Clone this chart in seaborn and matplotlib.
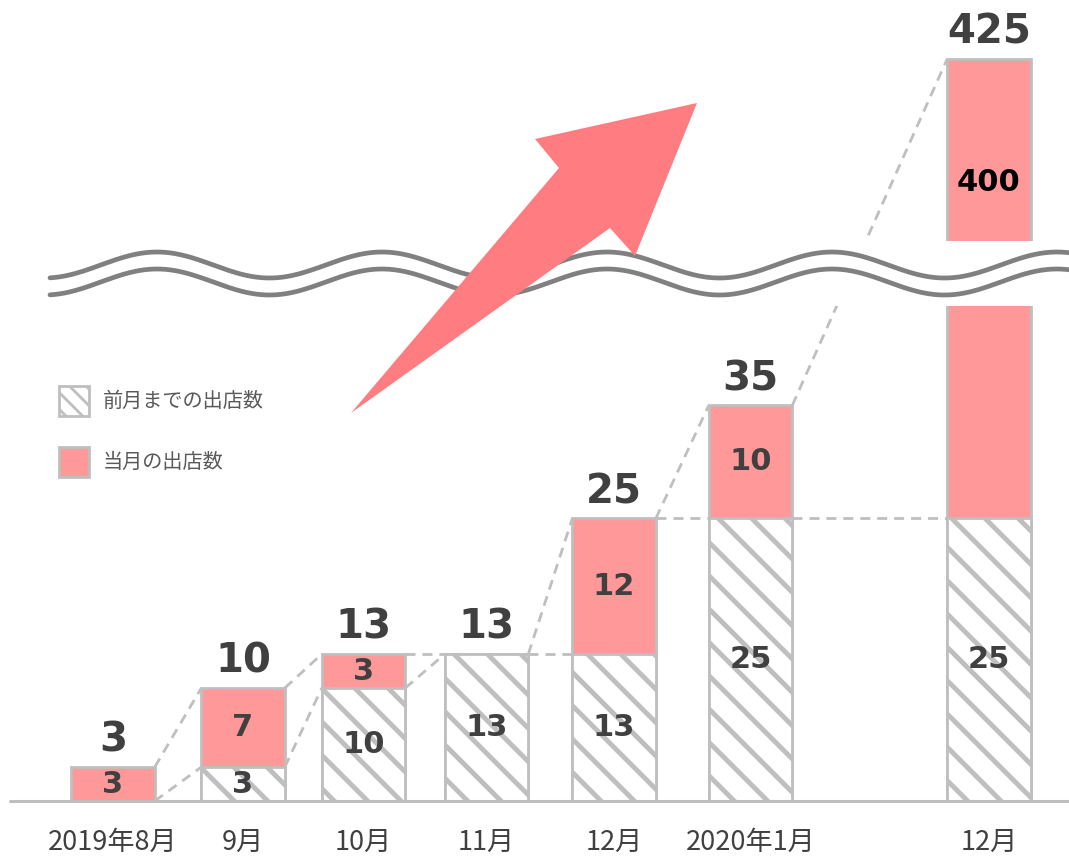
import numpy as np
import pandas as pd
import seaborn as sns
import matplotlib.pyplot as plt
from matplotlib.patches import Patch, Polygon
from matplotlib.lines import Line2D

# data
months = ['2019年8月', '9月', '10月', '11月', '12月', '2020年1月', '12月']
prev_stores = [0, 3, 10, 13, 13, 25, 25]     # 前月までの出店数
new_stores = [3, 7, 3, 0, 12, 10, 400]       # 当月の出店数
link_from = [0, 3, 10, 13, 25, 25]           # level where the lower dashed link leaves each bar
legend_labels = ['前月までの出店数', '当月の出店数']

# layout (bar centres in slot units, the last one further right)
x_pos = [0, 1.02, 1.965, 2.93, 3.93, 5.0, 6.87]
BAR_W = 0.693

PINK = '#FF9999'
GRAY = '#BFBFBF'
DARK = '#404040'
ARROW = '#FF7C80'

sns.set_style('white')
plt.rcParams['font.family'] = ['Noto Sans CJK JP', 'DejaVu Sans']
plt.rcParams['hatch.linewidth'] = 3.5

df = pd.DataFrame({'x': x_pos, 'month': months, 'prev': prev_stores, 'new': new_stores})
df['total'] = df['prev'] + df['new']

W, H = 1069, 861
fig = plt.figure(figsize=(W / 100, H / 100), dpi=100)
ax_lo = fig.add_axes([0, 60 / H, 1, 495 / H])
ax_hi = fig.add_axes([0, 620 / H, 1, 221 / H])

lo_lim = (0, 43.8)
hi_lim = (408.9, 428.45)
xlim = (-0.8863, 7.498)

for ax in (ax_lo, ax_hi):
    # total first in pink, then the previous-month part on top with hatching
    sns.barplot(data=df, x='x', y='total', native_scale=True, color=PINK, saturation=1,
                edgecolor=GRAY, linewidth=2, width=BAR_W, errorbar=None, ax=ax, zorder=2)
    sns.barplot(data=df, x='x', y='prev', native_scale=True, color='white', saturation=1,
                edgecolor=GRAY, linewidth=2, hatch='\\', width=BAR_W, errorbar=None, ax=ax, zorder=3)
    ax.set_xlim(*xlim)
    ax.set_xlabel('')
    ax.set_ylabel('')
    sns.despine(ax=ax, left=True, bottom=True)
    ax.set_yticks([])

ax_lo.set_ylim(*lo_lim)
ax_hi.set_ylim(*hi_lim)
ax_hi.set_xticks([])
ax_lo.set_xticks(x_pos)
ax_lo.set_xticklabels(months, fontsize=19.5, color=DARK)
ax_lo.tick_params(axis='x', length=0, pad=20)
ax_lo.axhline(0, xmin=10 / W, xmax=1, color=GRAY, lw=2.2, zorder=6, clip_on=False)

bw = BAR_W * np.min(np.diff(sorted(x_pos)))
totals = df['total'].tolist()


def axis_for(v):
    return ax_hi if v > lo_lim[1] else ax_lo


# value labels
for x, p, n, t in zip(x_pos, prev_stores, new_stores, totals):
    num_kw = dict(ha='center', va='center', fontweight='bold', family='DejaVu Sans')
    if p > 0:
        ax_lo.text(x, p / 2, str(p), fontsize=22, color=DARK, zorder=7, **num_kw)
    if n > 0:
        if t <= lo_lim[1]:
            ax_lo.text(x, p + n / 2, str(n), fontsize=22, color=DARK, zorder=7, **num_kw)
        else:
            ax_hi.text(x, hi_lim[0] + 0.32 * (t - hi_lim[0]), str(n), fontsize=22,
                       color='black', zorder=7, **num_kw)
    axis_for(t).annotate(str(t), (x, t), xytext=(0, 19), textcoords='offset points',
                         fontsize=29, color=DARK, annotation_clip=False, **num_kw)


# dashed links between neighbouring bars
def link(x0, v0, x1, v1):
    pts = np.array([axis_for(v0).transData.transform((x0, v0)),
                    axis_for(v1).transData.transform((x1, v1))])
    for ax in (ax_lo, ax_hi):
        d = ax.transData.inverted().transform(pts)
        ax.plot(d[:, 0], d[:, 1], ls=(0, (3.6, 2.5)), color=GRAY, lw=2, zorder=1)


for i in range(len(x_pos) - 1):
    xr = x_pos[i] + bw / 2
    xl = x_pos[i + 1] - bw / 2
    link(xr, totals[i], xl, totals[i + 1])
    link(xr, link_from[i], xl, prev_stores[i + 1])

# axis break waves
xs = np.linspace(50, W, 400)
y_up = 265 - 13 * np.cos(2 * np.pi * (xs - 157) / 225)
for y in (y_up, y_up + 17):
    fig.add_artist(Line2D(xs / W, 1 - y / H, transform=fig.transFigure,
                          color='#808080', lw=3.4, zorder=8))

# big growth arrow
arrow_px = [(351, 413), (559, 168), (535, 139), (697, 103), (635, 256), (610, 228)]
fig.add_artist(Polygon([(px / W, 1 - py / H) for px, py in arrow_px], closed=True,
                       transform=fig.transFigure, facecolor=ARROW, edgecolor='none', zorder=9))

# legend with a finer hatch in the small square
plt.rcParams['hatch.linewidth'] = 2
handles = [Patch(facecolor='white', edgecolor=GRAY, hatch='\\\\', lw=2),
           Patch(facecolor=PINK, edgecolor=GRAY, lw=2)]
leg = fig.legend(handles, legend_labels, loc='upper left', bbox_to_anchor=(59 / W, 1 - 386 / H),
                 frameon=False, fontsize=14.5, handlelength=1.49, handleheight=1.9,
                 handletextpad=0.67, labelspacing=1.54, borderpad=0, borderaxespad=0,
                 labelcolor='#595959')
for h in leg.get_patches():
    if hasattr(h, 'set_hatch_linewidth'):
        h.set_hatch_linewidth(2)

fig.savefig('out.png', dpi=100)
